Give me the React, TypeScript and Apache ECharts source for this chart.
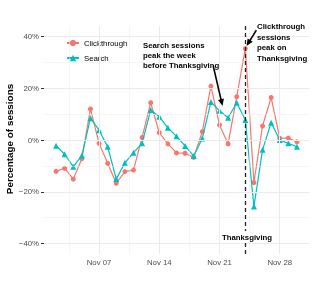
import React, { useEffect, useRef } from "react";
import * as echarts from "echarts";

// Day of November for each observation
const days = [2, 3, 4, 5, 6, 7, 8, 9, 10, 11, 12, 13, 14, 15, 16, 17, 18, 19, 20, 21, 22, 23, 24, 25, 26, 27, 28, 29, 30];
// Percentage of sessions (relative change, %)
const clickthrough = [-12.1, -10.9, -15.1, -7.2, 12.0, -1.3, -9.0, -16.7, -12.2, -11.6, 1.0, 14.4, 2.8, -1.5, -5.0, -5.1, -6.7, 3.2, 20.8, 5.8, -1.5, 16.7, 35.3, -16.4, 5.4, 16.4, 0.7, 0.7, -0.7];
const search = [-2.2, -5.5, -10.3, -6.0, 8.4, 3.8, -2.6, -15.1, -8.8, -4.9, -1.3, 11.6, 9.0, 4.7, 1.4, -2.3, -6.2, 0.6, 14.7, 11.3, 8.6, 14.4, 7.7, -25.7, -3.8, 6.7, 0.0, -1.3, -2.6];

const xTicks = [7, 14, 21, 28];
const xMinor = [3.5, 10.5, 17.5, 24.5];
const yTicks = [-40, -20, 0, 20, 40];
const yMinor = [-30, -10, 10, 30];
const thanksgivingDay = 24;

// annotation arrows in data coordinates [day, %]
const arrowSearch = [[20.26, 28.7], [21.26, 14.4]];
const arrowClick = [[25.28, 42.4], [24.35, 37.4]];

const FONT = "'Liberation Sans', Arial, Helvetica, sans-serif";

export default function App() {
  const ref = useRef<HTMLDivElement>(null);
  useEffect(() => {
    if (!ref.current) return;
    const chart = echarts.init(ref.current, null, { renderer: "svg" });
    const major = { color: "#ebebeb", width: 1, type: "solid" };
    const minor = { color: "#ebebeb", width: 0.5, type: "solid" };
    const gridLines = [
      ...xMinor.map((v) => ({ xAxis: v, lineStyle: minor })),
      ...yMinor.map((v) => ({ yAxis: v, lineStyle: minor })),
      ...xTicks.map((v) => ({ xAxis: v, lineStyle: major })),
      ...yTicks.map((v) => ({ yAxis: v, lineStyle: major })),
    ];
    const pad = (n: number) => (n < 10 ? "0" + n : "" + n);
    chart.setOption({
      animation: false,
      textStyle: { fontFamily: FONT },
      grid: { left: 44, right: 5, top: 26, bottom: 37, containLabel: false, outerBoundsMode: "none" },
      legend: {
        data: ["Clickthrough", "Search"],
        orient: "vertical",
        left: 60,
        top: 34,
        padding: [5, 6, 6, 6],
        itemWidth: 12,
        itemHeight: 8,
        itemGap: 7,
        backgroundColor: "#ffffff",
        textStyle: { fontSize: 7.8, color: "#000", fontFamily: FONT },
      },
      xAxis: {
        type: "value",
        min: 0.6,
        max: 31.4,
        axisLine: { show: false },
        splitLine: { show: false },
        axisTick: { show: true, customValues: xTicks, length: 3, lineStyle: { color: "#333" } },
        axisLabel: {
          customValues: xTicks,
          formatter: (v: number) => "Nov " + pad(Math.round(v)),
          fontSize: 7.8,
          color: "#4d4d4d",
          margin: 4,
          fontFamily: FONT,
        },
      },
      yAxis: {
        type: "value",
        min: -44,
        max: 44,
        axisLine: { show: false },
        splitLine: { show: false },
        axisTick: { show: true, customValues: yTicks, length: 3, lineStyle: { color: "#333" } },
        axisLabel: {
          customValues: yTicks,
          formatter: (v: number) => (v < 0 ? "\u2212" + Math.abs(v) + "%" : v + "%"),
          fontSize: 7.8,
          color: "#4d4d4d",
          margin: 5,
          fontFamily: FONT,
        },
      },
      series: [
        {
          name: "grid",
          type: "line",
          data: [],
          z: 0,
          silent: true,
          markLine: {
            silent: true,
            symbol: ["none", "none"],
            label: { show: false },
            data: gridLines,
          },
        },
        {
          name: "vline",
          type: "line",
          data: [],
          z: 1,
          silent: true,
          markLine: {
            silent: true,
            symbol: ["none", "none"],
            label: { show: false },
            lineStyle: { color: "#222", width: 1.3, type: [4, 3] },
            data: [{ xAxis: thanksgivingDay }],
          },
        },
        {
          name: "Clickthrough",
          type: "line",
          z: 2,
          data: days.map((d, i) => [d, clickthrough[i]]),
          symbol: "circle",
          symbolSize: 5,
          color: "#F8766D",
          lineStyle: { width: 1.2, color: "#F8766D" },
          itemStyle: { color: "#F8766D" },
        },
        {
          name: "Search",
          type: "line",
          z: 3,
          data: days.map((d, i) => [d, search[i]]),
          symbol: "triangle",
          symbolSize: 6,
          color: "#00BFC4",
          lineStyle: { width: 1.2, color: "#00BFC4" },
          itemStyle: { color: "#00BFC4" },
        },
        {
          name: "arrows",
          type: "line",
          data: [],
          z: 4,
          silent: true,
          markLine: {
            silent: true,
            symbol: ["none", "triangle"],
            symbolSize: [6, 7],
            label: { show: false },
            lineStyle: { color: "#000", width: 1.6, type: "solid" },
            itemStyle: { color: "#000" },
            data: [
              [{ coord: arrowSearch[0] }, { coord: arrowSearch[1] }],
              [{ coord: arrowClick[0] }, { coord: arrowClick[1] }],
            ],
          },
        },
      ],
      graphic: [
        {
          type: "text",
          x: 9,
          y: 139,
          rotation: Math.PI / 2,
          z: 10,
          style: {
            text: "Percentage of sessions",
            fontSize: 9.9,
            fontWeight: "bold",
            fontFamily: FONT,
            fill: "#000",
            textAlign: "center",
            textVerticalAlign: "middle",
          },
        },
        {
          type: "text",
          x: 143,
          y: 40,
          z: 10,
          style: {
            text: "Search sessions\npeak the week\nbefore Thanksgiving",
            fontSize: 7.8,
            fontWeight: "bold",
            fontFamily: FONT,
            lineHeight: 10.3,
            fill: "#000",
            textAlign: "left",
            textVerticalAlign: "top",
          },
        },
        {
          type: "text",
          x: 257,
          y: 21.8,
          z: 10,
          style: {
            text: "Clickthrough\nsessions\npeak on\nThanksgiving",
            fontSize: 7.8,
            fontWeight: "bold",
            fontFamily: FONT,
            lineHeight: 10.4,
            fill: "#000",
            textAlign: "left",
            textVerticalAlign: "top",
          },
        },
        {
          type: "text",
          x: 247,
          y: 237,
          z: 10,
          style: {
            text: "Thanksgiving",
            fontSize: 7.8,
            fontWeight: "bold",
            fontFamily: FONT,
            fill: "#000",
            textAlign: "center",
            textVerticalAlign: "middle",
            backgroundColor: "#fff",
            padding: [2, 2],
          },
        },
      ],
    });
    return () => chart.dispose();
  }, []);
  return <div ref={ref} style={{ position: "fixed", left: 0, top: 0, width: 314, height: 291 }} />;
}
